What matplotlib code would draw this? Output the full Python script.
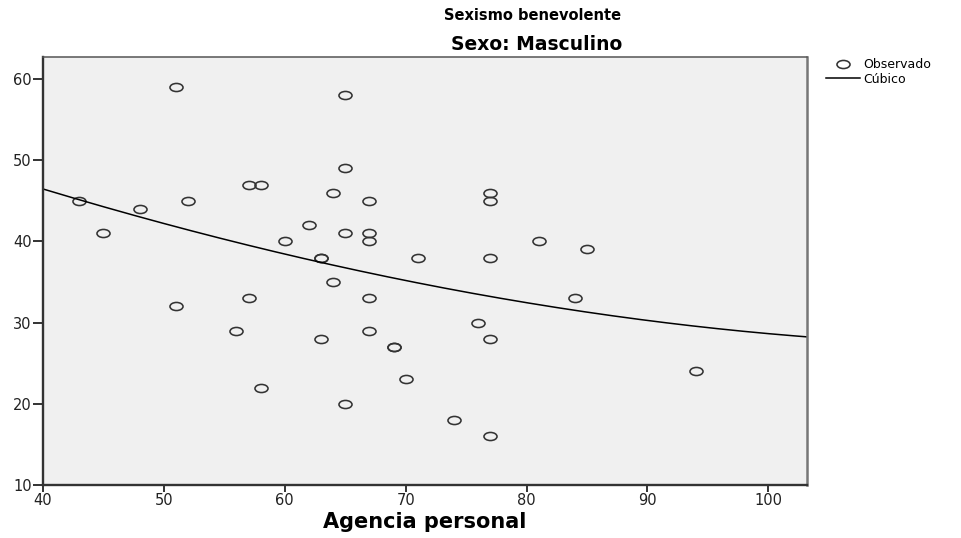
import numpy as np
import matplotlib
matplotlib.use("Agg")
import matplotlib.pyplot as plt
from matplotlib.path import Path
from matplotlib.transforms import Affine2D
from numpy.polynomial import Polynomial

plt.rcParams['font.family'] = ['DejaVu Sans']

# Agencia personal (x) and Sexismo benevolente (y), men only
agencia = [43, 45, 48, 51, 51, 52, 56, 57, 57, 58, 58, 60, 62, 63, 63, 63,
           64, 64, 65, 65, 65, 65, 67, 67, 67, 67, 67, 69, 69, 70, 71, 74,
           76, 77, 77, 77, 77, 77, 81, 84, 85, 94]
sexismo = [45, 41, 44, 59, 32, 45, 29, 47, 33, 47, 22, 40, 42, 38, 38, 28,
           46, 35, 58, 49, 41, 20, 45, 41, 40, 33, 29, 27, 27, 23, 38, 18,
           30, 46, 45, 38, 28, 16, 40, 33, 39, 24]

# cubic curve estimate, coefficients in u = (x - 70) / 10
cubic_coef = [35.18, -2.997, 0.2626, 0.00314]

x_ticks = [40, 50, 60, 70, 80, 90, 100]
y_ticks = [10, 20, 30, 40, 50, 60]
x_range = (40, 103.2)
y_range = (10, 62.7)

fig = plt.figure(figsize=(9.61, 5.38), dpi=100)
ax = fig.add_axes([43 / 961, 1 - 485 / 538, (807 - 43) / 961, (485 - 57) / 538])
ax.set_facecolor('#f0f0f0')

# horizontally stretched open circle
ellipse = Path.unit_circle().transformed(Affine2D().scale(1.0, 0.62))

ax.plot(agencia, sexismo, linestyle='none', marker=ellipse, markersize=9.4,
        markerfacecolor='none', markeredgecolor='#333333', markeredgewidth=1.15,
        label='Observado')

cubic = Polynomial(cubic_coef, domain=[60, 80])
xs = np.linspace(*x_range, 300)
ax.plot(xs, cubic(xs), color='black', linewidth=1.1, label='Cúbico')

ax.set_xlim(*x_range)
ax.set_ylim(*y_range)
ax.set_xticks(x_ticks)
ax.set_yticks(y_ticks)
ax.tick_params(axis='x', direction='out', length=5, width=1.4, color='#333333',
               labelsize=10.5, pad=1, labelcolor='#222222')
ax.tick_params(axis='y', direction='out', length=7.5, width=1.4, color='#333333',
               labelsize=10.5, pad=0.5, labelcolor='#222222')
for side in ['left', 'bottom']:
    ax.spines[side].set_linewidth(1.7)
    ax.spines[side].set_color('#333333')
ax.spines['top'].set_linewidth(1.1)
ax.spines['top'].set_color('#555555')
ax.spines['right'].set_linewidth(1.8)
ax.spines['right'].set_color('#777777')

ax.set_xlabel('Agencia personal', fontsize=15, fontweight='bold', labelpad=3)

fig.text(533 / 961, 1 - 15 / 538, 'Sexismo benevolente', ha='center', va='center',
         fontsize=10.5, fontweight='bold')
fig.text(537 / 961, 1 - 44 / 538, 'Sexo: Masculino', ha='center', va='center',
         fontsize=13.5, fontweight='bold')

ax.legend(loc='upper left', bbox_to_anchor=(820 / 961, 1 - 52 / 538),
          bbox_transform=fig.transFigure, frameon=False, fontsize=9,
          handlelength=2.7, handletextpad=0.25, labelspacing=0.12, borderpad=0)

fig.savefig('out.png', dpi=100)
